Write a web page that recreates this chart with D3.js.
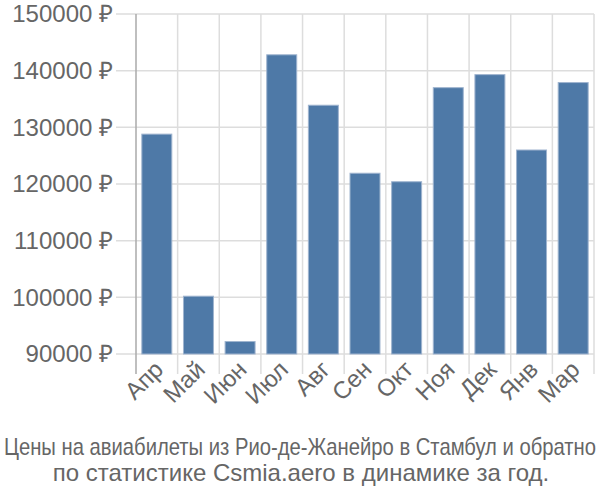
<!DOCTYPE html>
<html>
<head>
<meta charset="utf-8">
<script src="https://d3js.org/d3.v7.min.js"></script>
<style>
  body { margin: 0; background: #fff; }
  text { font-family: "Liberation Sans", Arial, sans-serif; fill: #666; }
</style>
</head>
<body>
<svg width="600" height="500"></svg>
<script>
var months = ["Апр", "Май", "Июн", "Июл", "Авг", "Сен", "Окт", "Ноя", "Дек", "Янв", "Мар"];
var prices = [128800, 100200, 92200, 142800, 133900, 121900, 120400, 137000, 139300, 126000, 137900];
var yTicks = [90000, 100000, 110000, 120000, 130000, 140000, 150000];
var titleLines = ["Цены на авиабилеты из Рио-де-Жанейро в Стамбул и обратно",
                  "по статистике Csmia.aero в динамике за год."];

var svg = d3.select("svg");
var plotLeft = 136, plotRight = 594, plotTop = 14, plotBottom = 354;

var x = d3.scaleBand().domain(months).range([plotLeft, plotRight])
    .paddingInner(0.28).paddingOuter(0.14);
var y = d3.scaleLinear().domain([90000, 150000]).range([plotBottom, plotTop]);

// vertical grid at band edges
var bandEdges = d3.range(1, months.length + 1).map(function(i) { return plotLeft + i * x.step(); });

svg.append("g")
    .selectAll("line")
    .data(bandEdges)
    .enter()
    .append("line")
    .attr("x1", function(d) { return d; })
    .attr("x2", function(d) { return d; })
    .attr("y1", plotTop)
    .attr("y2", plotBottom + 20)
    .attr("stroke", "#ddd")
    .attr("stroke-width", 1.5);

// horizontal grid
svg.append("g")
    .selectAll("line")
    .data(yTicks)
    .enter()
    .append("line")
    .attr("x1", plotLeft - 20)
    .attr("x2", plotRight)
    .attr("y1", function(d) { return y(d); })
    .attr("y2", function(d) { return y(d); })
    .attr("stroke", "#ddd")
    .attr("stroke-width", 1.5);

// left axis line
svg.append("line")
    .attr("x1", plotLeft).attr("x2", plotLeft)
    .attr("y1", plotTop).attr("y2", plotBottom + 20)
    .attr("stroke", "#aaa")
    .attr("stroke-width", 1.5);

svg.append("g")
    .selectAll("text")
    .data(yTicks)
    .enter()
    .append("text")
    .attr("x", plotLeft - 23)
    .attr("y", function(d) { return y(d); })
    .attr("dy", "0.35em")
    .attr("text-anchor", "end")
    .style("font-size", "24px")
    .text(function(d) { return d + " ₽"; });

svg.append("g")
    .selectAll("rect")
    .data(prices)
    .enter()
    .append("rect")
    .attr("x", function(d, i) { return x(months[i]); })
    .attr("width", x.bandwidth())
    .attr("y", function(d) { return y(d); })
    .attr("height", function(d) { return plotBottom - y(d); })
    .attr("fill", "#4e79a7")
    .attr("stroke", "#9fb4cf")
    .attr("stroke-width", 1);

svg.append("g")
    .selectAll("text")
    .data(months)
    .enter()
    .append("text")
    .attr("text-anchor", "end")
    .style("font-size", "24px")
    .attr("transform", function(d) {
        return "translate(" + (x(d) + x.bandwidth() / 2 + 8) + "," + (plotBottom + 17) + ") rotate(-45)";
    })
    .text(function(d) { return d; });

svg.append("text")
    .attr("x", 300)
    .attr("y", 455)
    .attr("text-anchor", "middle")
    .attr("textLength", 592)
    .attr("lengthAdjust", "spacingAndGlyphs")
    .style("font-size", "24px")
    .text(titleLines[0]);

svg.append("text")
    .attr("x", 301)
    .attr("y", 481)
    .attr("text-anchor", "middle")
    .style("font-size", "24px")
    .text(titleLines[1]);
</script>
</body>
</html>
